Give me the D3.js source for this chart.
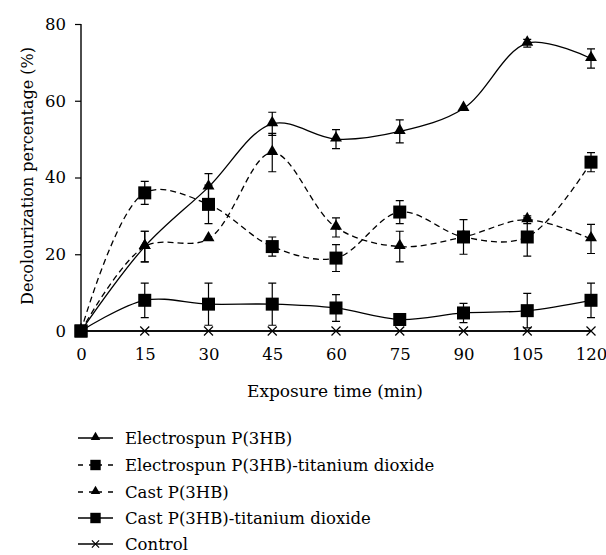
<!DOCTYPE html>
<html>
<head>
<meta charset="utf-8">
<script src="https://cdn.jsdelivr.net/npm/d3@7"></script>
<style>
  body { margin: 0; background: #fff; }
  svg text { font-family: "DejaVu Serif", "Liberation Serif", serif; fill: #000; }
</style>
</head>
<body>
<div id="chart"></div>
<script>
// exposure time (min)
var times = [0, 15, 30, 45, 60, 75, 90, 105, 120];

// decolourization percentage (%) per series
var espun = [0, 22, 37.5, 54, 50, 52, 58, 75, 71];
var espunErr = [0, 4, 3.5, 3, 2.5, 3, 0, 1, 2.5];

var espunTi = [0, 36, 33, 22, 19, 31, 24.5, 24.5, 44];
var espunTiErr = [0, 3, 5, 2.5, 3.5, 3, 4.5, 5, 2.5];

var cast = [0, 22, 24, 46.5, 27, 22, 24.5, 29, 24];
var castErr = [0, 4, 0, 5, 2.5, 4, 0, 1, 3.8];

var castTi = [0, 8, 7, 7, 6, 3, 4.7, 5.3, 8];
var castTiErr = [0, 4.5, 5.5, 5.5, 3.5, 0, 2.5, 4.5, 4.5];

var control = [0, 0, 0, 0, 0, 0, 0, 0, 0];

var yTicks = [0, 20, 40, 60, 80];

var series = [
    {name: "Electrospun P(3HB)", vals: espun, err: espunErr, sym: "tri", dash: false},
    {name: "Electrospun P(3HB)-titanium dioxide", vals: espunTi, err: espunTiErr, sym: "sq", dash: true},
    {name: "Cast P(3HB)", vals: cast, err: castErr, sym: "tri", dash: true},
    {name: "Cast P(3HB)-titanium dioxide", vals: castTi, err: castTiErr, sym: "sq", dash: false},
    {name: "Control", vals: control, err: null, sym: "x", dash: false}
]

var width = 606, height = 555;
var fontFam = "DejaVu Serif";

var svg = d3.select("#chart").append("svg")
    .attr("width", width)
    .attr("height", height)

var x = d3.scaleLinear().domain([0, 120]).range([81, 591]);
var y = d3.scaleLinear().domain([0, 80]).range([331, 24]);

// symbol drawing helper, k scales the marker
function drawSymbol(g, sym, cx, cy, k) {
    k = k || 1;
    if (sym === "tri") {
        g.append("path")
            .attr("d", d3.symbol().type(d3.symbolTriangle).size(62 * k * k)())
            .attr("transform", "translate(" + cx + "," + (cy - 1 * k) + ")")
            .attr("fill", "#000");
    } else if (sym === "sq") {
        var h = 6.5 * k;
        g.append("rect")
            .attr("x", cx - h).attr("y", cy - h)
            .attr("width", 2 * h).attr("height", 2 * h)
            .attr("fill", "#000");
    } else {
        var c = 4.5 * k;
        g.append("path")
            .attr("d", "M" + (cx - c) + "," + (cy - c) + "L" + (cx + c) + "," + (cy + c) +
                "M" + (cx - c) + "," + (cy + c) + "L" + (cx + c) + "," + (cy - c))
            .attr("stroke", "#000").attr("stroke-width", 1.2);
    }
}

// axes (x axis has no tick marks in the original)
var yAxis = d3.axisLeft(y).tickValues(yTicks).tickSize(6).tickPadding(9);
var xAxis = d3.axisBottom(x).tickValues(times).tickSize(0).tickPadding(17);

var gy = svg.append("g").attr("transform", "translate(81,0)").call(yAxis);
var gx = svg.append("g").attr("transform", "translate(0,331)").call(xAxis);
[gx, gy].forEach(function(g) {
    g.attr("font-family", fontFam).attr("font-size", 16.5);
    g.select(".domain").attr("stroke-width", 1.4);
    g.selectAll(".tick line").attr("stroke-width", 1.2);
});
gy.select(".domain").attr("d", "M0,24V331");
gx.select(".domain").attr("d", "M81,0H591");

var line = d3.line()
    .x(function(d, i) { return x(times[i]); })
    .y(function(d) { return y(d); })
    .curve(d3.curveCatmullRom.alpha(0.5));

// lines first
series.forEach(function(s) {
    svg.append("path")
        .attr("d", line(s.vals))
        .attr("fill", "none")
        .attr("stroke", "#000")
        .attr("stroke-width", 1.3)
        .attr("stroke-dasharray", s.dash ? "6,4" : null);
});

// error bars and markers
series.forEach(function(s) {
    var g = svg.append("g");
    s.vals.forEach(function(v, i) {
        var cx = x(times[i]);
        if (s.err && s.err[i] > 0) {
            var y1 = y(v + s.err[i]), y2 = y(v - s.err[i]);
            g.append("path")
                .attr("d", "M" + cx + "," + y1 + "V" + y2 +
                    "M" + (cx - 4) + "," + y1 + "H" + (cx + 4) +
                    "M" + (cx - 4) + "," + y2 + "H" + (cx + 4))
                .attr("stroke", "#000").attr("stroke-width", 1.2).attr("fill", "none");
        }
        drawSymbol(g, s.sym, cx, y(v));
    });
});

// axis titles
svg.append("text")
    .attr("x", 335).attr("y", 397)
    .attr("text-anchor", "middle")
    .attr("font-family", fontFam)
    .attr("font-size", 17)
    .text("Exposure time (min)");

svg.append("text")
    .attr("transform", "translate(33,176) rotate(-90)")
    .attr("text-anchor", "middle")
    .attr("font-family", fontFam)
    .attr("font-size", 16)
    .text("Decolourization percentage (%)");

// legend
var legY = [444, 471, 498, 524, 550];
series.forEach(function(s, i) {
    var g = svg.append("g");
    var ly = legY[i] - 6;
    if (s.dash) {
        g.append("path")
            .attr("d", "M78," + ly + "H83M89," + ly + "H102M108," + ly + "H113")
            .attr("stroke", "#000").attr("stroke-width", 1.3);
    } else {
        g.append("path")
            .attr("d", "M78," + ly + "H113")
            .attr("stroke", "#000").attr("stroke-width", 1.3);
    }
    drawSymbol(g, s.sym, 95.5, ly, 0.8);
    g.append("text")
        .attr("x", 125).attr("y", legY[i])
        .attr("font-family", fontFam)
        .attr("font-size", 16.5)
        .text(s.name);
});
</script>
</body>
</html>
